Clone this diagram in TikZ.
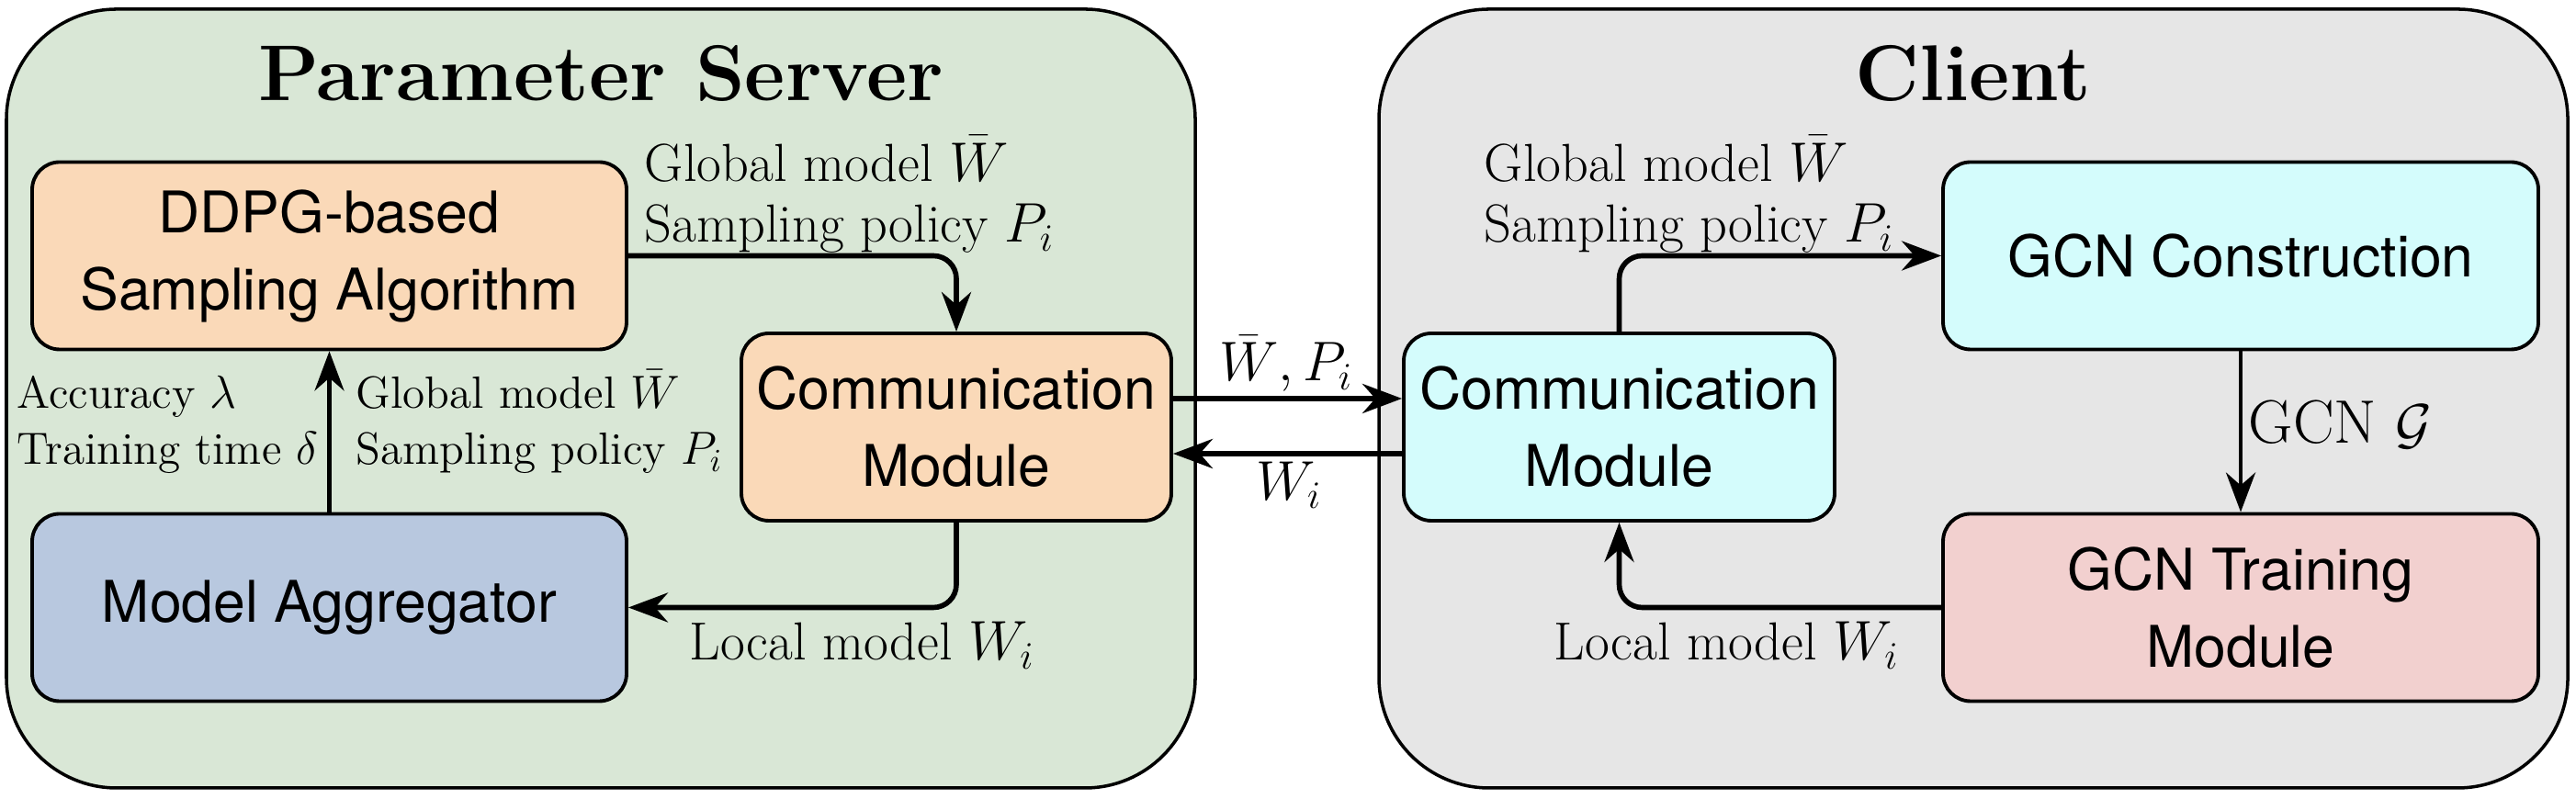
\documentclass[tikz,border=0pt]{standalone}
\usepackage{fontspec}
\setsansfont{TeX Gyre Heros}
\usetikzlibrary{arrows.meta,positioning}

\definecolor{servergreen}{HTML}{D9E7D6}
\definecolor{clientgray}{HTML}{E6E6E6}
\definecolor{peach}{HTML}{FAD9B8}
\definecolor{steelblue}{HTML}{B8C8DF}
\definecolor{palecyan}{HTML}{D4FCFC}
\definecolor{palepink}{HTML}{F2D0CF}

\tikzset{
  panel/.style={draw, line width=1pt, rounded corners=1.2cm},
  paneltitle/.style={font=\fontsize{24.5}{29}\selectfont\bfseries, inner sep=0pt},
  module/.style={draw, line width=1.1pt, rounded corners=0.3cm, align=center,
    font=\sffamily\fontsize{17.8}{23.9}\selectfont, inner sep=0pt,
    minimum height=2.04cm},
  lbl/.style={font=\fontsize{16.6}{19}\selectfont, align=left, inner sep=0pt},
  smalllbl/.style={lbl, font=\fontsize{14}{17.6}\selectfont},
  flow/.style={-{Stealth[length=0.43cm,width=0.32cm]}, line width=1.6pt, rounded corners=0.25cm},
  thinflow/.style={flow, line width=1.3pt},
}

\begin{document}
\begin{tikzpicture}
  \useasboundingbox (0,0) rectangle (28.04,8.70);
  % panels
  \draw[panel, fill=servergreen] (0.07,0.12) rectangle (13.01,8.60);
  \draw[panel, fill=clientgray] (15.01,0.12) rectangle (27.95,8.60);
  \node[paneltitle] (servertitle) at (6.54,7.90) {Parameter Server};
  \node[paneltitle] (clienttitle) at (21.48,7.90) {Client};

  % server modules
  \node[module, fill=peach, minimum width=6.47cm] (ddpg) at (3.585,5.915) {DDPG-based\\Sampling Algorithm};
  \node[module, fill=peach, minimum width=4.68cm] (commL) at (10.41,4.05) {Communication\\Module};
  \node[module, fill=steelblue, minimum width=6.47cm] (aggr) at (3.585,2.085) {Model Aggregator};

  % client modules
  \node[module, fill=palecyan, minimum width=4.69cm] (commR) at (17.625,4.05) {Communication\\Module};
  \node[module, fill=palecyan, minimum width=6.48cm] (gcnc) at (24.39,5.915) {GCN Construction};
  \node[module, fill=palepink, minimum width=6.48cm] (gcnt) at (24.39,2.085) {GCN Training\\Module};

  % connectors
  \draw[flow] (ddpg.east) -| (commL.north);
  \draw[thinflow] (aggr.north) -- (ddpg.south);
  \draw[flow] (commL.south) |- (aggr.east);
  \draw[flow] ([yshift=0.31cm]commL.east) -- ([yshift=0.31cm]commR.west);
  \draw[flow] ([yshift=-0.29cm]commR.west) -- ([yshift=-0.29cm]commL.east);
  \draw[flow] (commR.north) |- (gcnc.west);
  \draw[thinflow] (gcnc.south) -- (gcnt.north);
  \draw[flow] (gcnt.west) -| (commR.south);

  % labels (base = last line)
  \node[lbl, anchor=base west] (sendlbl) at (7.01,6.06) {Global model $\bar{W}$\\Sampling policy $P_i$};
  \node[smalllbl, anchor=base east] (statelbl) at (3.47,3.64) {Accuracy $\lambda$\\Training time $\delta$};
  \node[smalllbl, anchor=base west] (actlbl) at (3.87,3.64) {Global model $\bar{W}$\\Sampling policy $P_i$};
  \node[lbl, anchor=base west] (locallbl) at (7.50,1.51) {Local model $W_i$};
  \node[lbl, anchor=base] (downlbl) at (14.00,4.55) {$\bar{W}, P_i$};
  \node[lbl, anchor=north] (uplbl) at (14.03,3.68) {$W_i$};
  \node[lbl, anchor=base west] (recvlbl) at (16.15,6.06) {Global model $\bar{W}$\\Sampling policy $P_i$};
  \node[lbl, anchor=base west, font=\fontsize{19}{22}\selectfont] (graphlbl) at (24.47,3.87) {GCN $\mathcal{G}$};
  \node[lbl, anchor=base west] (clocallbl) at (16.91,1.51) {Local model $W_i$};
\end{tikzpicture}
\end{document}
